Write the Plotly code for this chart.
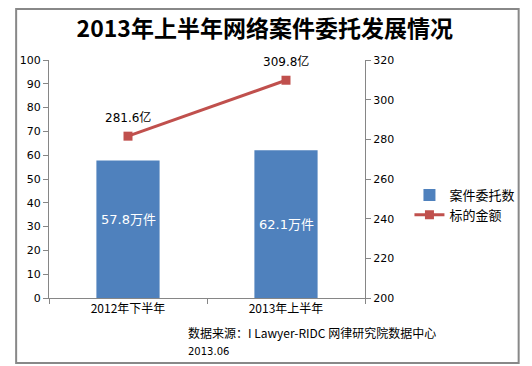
import plotly.graph_objects as go

categories = ["2012年下半年", "2013年上半年"]
case_counts = [57.8, 62.1]            # 万件
case_labels = ["57.8万件", "62.1万件"]
amounts = [281.6, 309.8]              # 亿
amount_labels = ["281.6亿", "309.8亿"]
left_ticks = list(range(0, 101, 10))
right_ticks = list(range(200, 321, 20))

FONT = "DejaVu Sans, Noto Sans CJK SC, sans-serif"
CJK = "Noto Sans CJK SC, sans-serif"
AXIS_COLOR = "#868686"

# page offset of the figure (browser body margin)
OFF = 8
W, H = 532 - OFF, 366 - OFF
# plot-area geometry in page pixels
L, R, T, B = 43, 370, 60, 298


def px(x):
    return (x - L) / (R - L)


def py(y):
    return (B - y) / (B - T)


fig = go.Figure()
fig.add_trace(go.Bar(
    x=categories, y=case_counts, name="案件委托数",
    marker=dict(color="#4F81BD", line=dict(width=0)),
    width=0.4, yaxis="y",
))
fig.add_trace(go.Scatter(
    x=categories, y=amounts, name="标的金额", yaxis="y2",
    mode="lines+markers",
    line=dict(color="#C0504D", width=3),
    marker=dict(symbol="square", size=9, color="#C0504D"),
))

# data labels inside bars
for c, lab, yv in zip(categories, case_labels, [33, 31]):
    fig.add_annotation(x=c, y=yv, xref="x", yref="y", text=lab, showarrow=False,
                       font=dict(family=FONT, size=13, color="white"))

# data labels above line points
for c, lab, yv in zip(categories, amount_labels, amounts):
    fig.add_annotation(x=c, y=yv, xref="x", yref="y2", text=lab, showarrow=False,
                       yshift=19, font=dict(family=FONT, size=12, color="#000"))

fig.add_annotation(x=px(185), y=py(332), xref="paper", yref="paper",
                   xanchor="left", yanchor="middle", showarrow=False,
                   text="数据来源：I Lawyer-RIDC 网律研究院数据中心",
                   font=dict(family=CJK, size=12, color="#000"))
fig.add_annotation(x=px(185), y=py(351), xref="paper", yref="paper",
                   xanchor="left", yanchor="middle", showarrow=False,
                   text="2013.06", font=dict(family=FONT, size=10, color="#000"))

# outer border (clamped to the visible figure)
fig.add_shape(type="rect", xref="paper", yref="paper",
              x0=px(OFF + 1), x1=px(529), y0=py(363), y1=py(OFF + 1),
              line=dict(color="#888888", width=2))

fig.update_layout(
    width=W, height=H,
    margin=dict(l=L - OFF, r=W - (R - OFF), t=T - OFF, b=H - (B - OFF), pad=0),
    paper_bgcolor="white", plot_bgcolor="white",
    title=dict(text="<b>2013年上半年网络案件委托发展情况</b>", x=0.49, xanchor="center",
               y=1 - (29 - OFF) / H, yanchor="middle",
               font=dict(family=CJK, size=23, color="#000")),
    showlegend=True,
    legend=dict(x=px(416), y=py(205), xanchor="left", yanchor="middle",
                font=dict(family=CJK, size=13, color="#000"),
                bgcolor="rgba(0,0,0,0)", tracegroupgap=4, itemwidth=30),
    xaxis=dict(type="category", showline=True, linecolor=AXIS_COLOR, linewidth=1,
               ticks="outside", tickson="boundaries", ticklen=5, tickcolor=AXIS_COLOR,
               tickfont=dict(family=CJK, size=12, color="#000"), showgrid=False,
               range=[-0.5, 1.5]),
    yaxis=dict(range=[0, 100], tickvals=left_ticks, showline=True, linecolor=AXIS_COLOR,
               ticks="outside", ticklen=5, tickcolor=AXIS_COLOR, showgrid=False,
               zeroline=False, tickfont=dict(family=FONT, size=11, color="#000")),
    yaxis2=dict(range=[200, 320], tickvals=right_ticks, overlaying="y", side="right",
                showline=True, linecolor=AXIS_COLOR, ticks="outside", ticklen=5,
                tickcolor=AXIS_COLOR, showgrid=False, zeroline=False,
                tickfont=dict(family=FONT, size=11, color="#000")),
)

fig.write_html("out.html")
